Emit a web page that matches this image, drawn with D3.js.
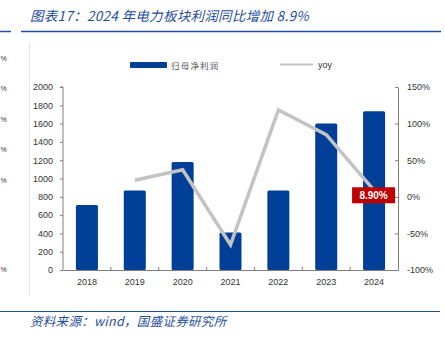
<!DOCTYPE html>
<html><head><meta charset="utf-8">
<script src="https://cdn.jsdelivr.net/npm/d3@7/dist/d3.min.js"></script>
<style>
html,body{margin:0;padding:0;background:#fff;}
svg{display:block;}
</style></head>
<body>
<svg id="c" width="445" height="343"></svg>
<script>
const years = ["2018","2019","2020","2021","2022","2023","2024"];
const profit = [710, 870, 1180, 410, 870, 1600, 1735];
const yoy = [null, 22.5, 37, -65.5, 118.5, 85, 8.9];
const leftTicks = [0,200,400,600,800,1000,1200,1400,1600,1800,2000];
const rightTicks = [-100,-50,0,50,100,150];
const title = "图表17：2024 年电力板块利润同比增加 8.9%";
const source = "资料来源：wind，国盛证券研究所";
const seriesNames = ["归母净利润","yoy"];
const lastLabel = "8.90%";
const edgeMarks = [58, 88, 119, 149, 180, 269];

const svg = d3.select("#c");
const blue = "#003f98";
const titleBlue = "#1f4e9e";
const cjk = "'Noto Sans CJK SC','Liberation Sans',sans-serif";
const lat = "'Liberation Sans',Arial,sans-serif";

const L = 63, R = 398, T = 87, B = 270;

// cropped neighbour artifacts on the left edge
svg.selectAll("text.edge").data(edgeMarks).enter().append("text")
  .attr("x", 0.5).attr("y", d => d + 3)
  .attr("font-family", lat).attr("font-size", 7).attr("fill", "#333").text("%");
svg.append("line").attr("x1", 29.5).attr("x2", 29.5).attr("y1", 42).attr("y2", 296)
  .attr("stroke", "#e4e4e4").attr("stroke-width", 1);

// title
svg.append("text").attr("x", 30).attr("y", 21)
  .attr("font-family", cjk).attr("font-style", "italic").attr("font-size", 13.5)
  .attr("letter-spacing", 0.3)
  .attr("fill", titleBlue).text(title);
svg.append("line").attr("x1", 21).attr("x2", 441).attr("y1", 31.5).attr("y2", 31.5)
  .attr("stroke", titleBlue).attr("stroke-width", 1.5);
svg.append("line").attr("x1", 0).attr("x2", 11).attr("y1", 31.5).attr("y2", 31.5)
  .attr("stroke", titleBlue).attr("stroke-width", 1.5);

// footer
svg.append("line").attr("x1", 0).attr("x2", 440).attr("y1", 311.5).attr("y2", 311.5)
  .attr("stroke", titleBlue).attr("stroke-width", 1.2);
svg.append("text").attr("x", 30).attr("y", 326)
  .attr("font-family", cjk).attr("font-style", "italic").attr("font-size", 12.5)
  .attr("letter-spacing", 0.3)
  .attr("fill", titleBlue).text(source);

// scales
const x = d3.scaleBand().domain(years).range([L, R]).paddingInner(0.54).paddingOuter(0.27);
const yL = d3.scaleLinear().domain([0, 2000]).range([B, T]);
const yR = d3.scaleLinear().domain([-100, 150]).range([B, T]);

// bars
svg.selectAll("rect.bar").data(years).enter().append("rect")
  .attr("x", d => x(d)).attr("width", x.bandwidth())
  .attr("y", (d, i) => yL(profit[i])).attr("height", (d, i) => B - yL(profit[i]))
  .attr("rx", 1.5).attr("fill", blue);

// axes
const axisColor = "#7f7f7f";
const gl = svg.append("g").attr("transform", `translate(${L},0)`)
  .call(d3.axisLeft(yL).tickValues(leftTicks).tickSize(3).tickPadding(7).tickFormat(d3.format("d")));
const gr = svg.append("g").attr("transform", `translate(${R},0)`)
  .call(d3.axisRight(yR).tickValues(rightTicks).tickSizeInner(-3).tickSizeOuter(0).tickPadding(9).tickFormat(d => d + "%"));
const gb = svg.append("g").attr("transform", `translate(0,${B})`)
  .call(d3.axisBottom(x).tickSize(0).tickPadding(9));
[gl, gr, gb].forEach(g => {
  g.select(".domain").attr("stroke", axisColor);
  g.selectAll(".tick line").attr("stroke", axisColor);
  g.selectAll("text").attr("font-family", lat).attr("font-size", 9).attr("fill", "#333");
});
gl.select(".domain").attr("d", `M-3,${T}H0V${B}`);
// category boundary ticks
const bounds = years.slice(1).map(d => x(d) - x.step() * x.paddingInner() / 2);
svg.selectAll("line.bt").data(bounds).enter().append("line")
  .attr("x1", d => d).attr("x2", d => d).attr("y1", B).attr("y2", B - 3)
  .attr("stroke", axisColor);

// yoy line
const pts = years.map((d, i) => [x(d) + x.bandwidth() / 2, yoy[i]]).filter(p => p[1] !== null);
svg.append("path").datum(pts)
  .attr("d", d3.line().x(p => p[0]).y(p => yR(p[1])))
  .attr("fill", "none").attr("stroke", "#c3c3c3").attr("stroke-width", 3.5)
  .attr("stroke-linejoin", "miter");

// last label
const lx = x(years[6]) + x.bandwidth() / 2, ly = yR(yoy[6]);
svg.append("rect").attr("x", lx - 22).attr("y", ly - 3).attr("width", 43).attr("height", 16)
  .attr("fill", "#c00000");
svg.append("text").attr("x", lx - 0.5).attr("y", ly + 8.5).attr("text-anchor", "middle")
  .attr("font-family", lat).attr("font-weight", "bold").attr("font-size", 10)
  .attr("fill", "#fff").text(lastLabel);

// legend
svg.append("rect").attr("x", 130).attr("y", 62).attr("width", 37).attr("height", 6)
  .attr("rx", 1).attr("fill", blue);
svg.append("text").attr("x", 171).attr("y", 68.5)
  .attr("font-family", cjk).attr("font-size", 8.5).attr("letter-spacing", 1.2)
  .attr("fill", "#555").text(seriesNames[0]);
svg.append("line").attr("x1", 280).attr("x2", 313).attr("y1", 64.5).attr("y2", 64.5)
  .attr("stroke", "#c3c3c3").attr("stroke-width", 2);
svg.append("text").attr("x", 318).attr("y", 68)
  .attr("font-family", lat).attr("font-size", 9).attr("fill", "#333").text(seriesNames[1]);
</script>
</body></html>
